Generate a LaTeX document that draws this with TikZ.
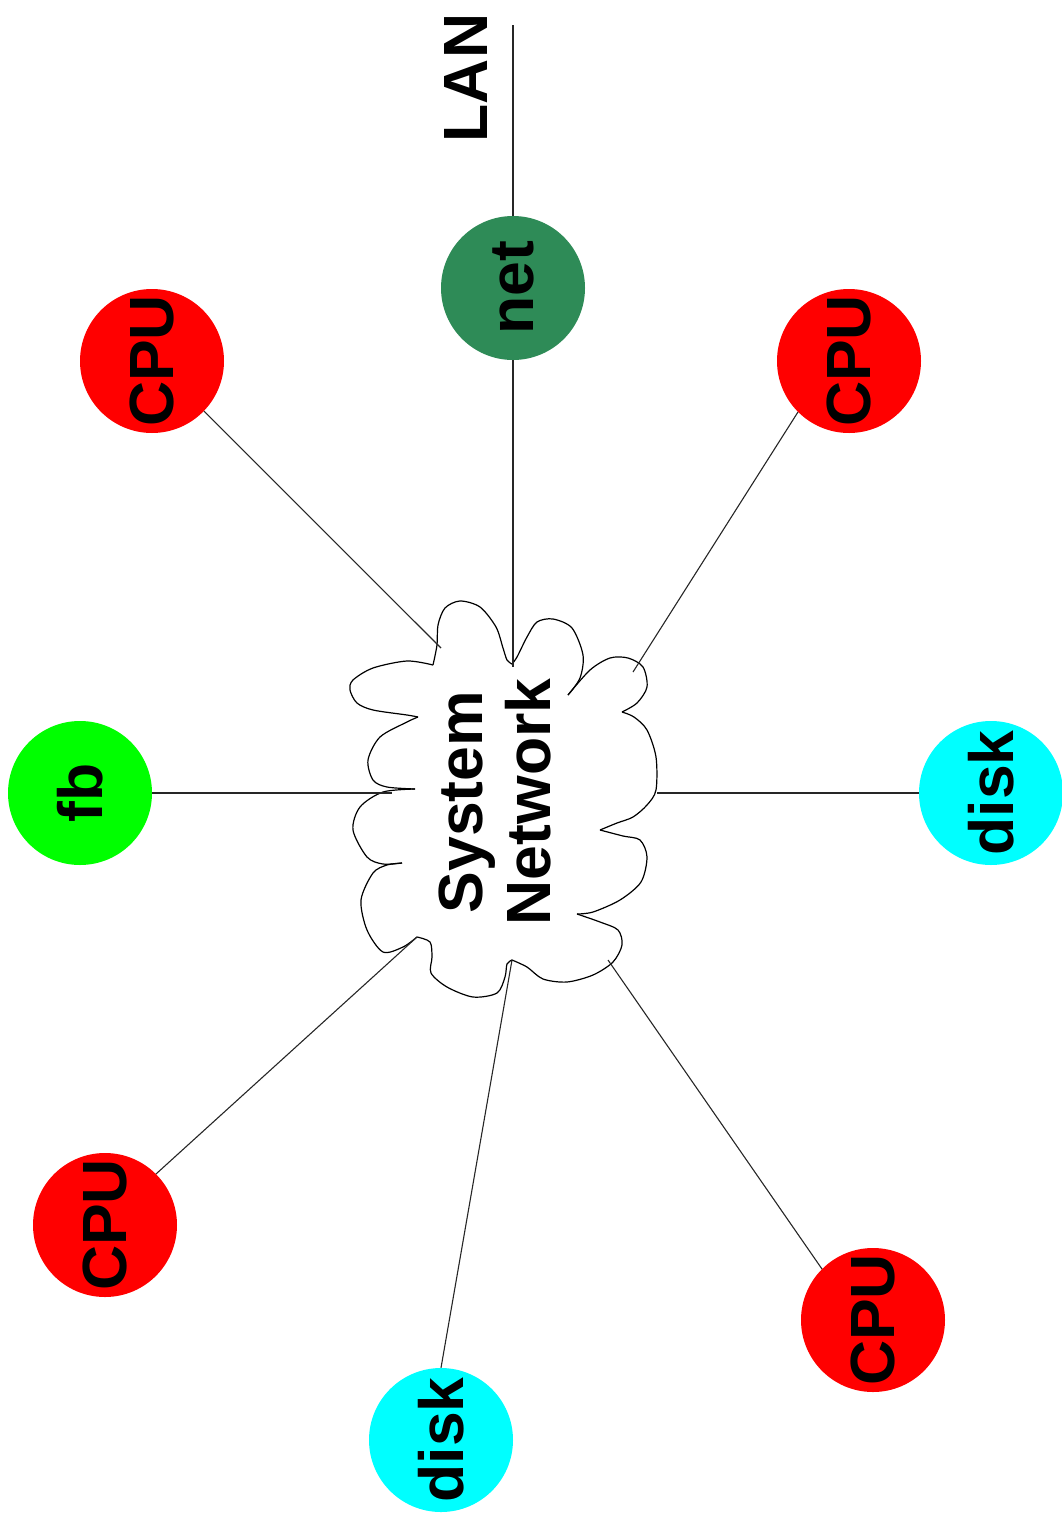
\documentclass[tikz,border=0pt]{standalone}
\usepackage{fontspec}
\usepackage{graphicx}
\setmainfont{Liberation Sans}
\newcommand\diagfont{\fontsize{62.5}{68}\selectfont\bfseries}
\newcommand\rot[1]{\rotatebox{90}{#1}}
\definecolor{cpured}{HTML}{FF0000}
\definecolor{fbgreen}{HTML}{00FF00}
\definecolor{diskcyan}{HTML}{00FFFF}
\definecolor{netgreen}{HTML}{2E8B57}
\begin{document}
\begin{tikzpicture}[x=1pt,y=-1pt,
  unit/.style={circle,minimum size=144pt,inner sep=0pt,font=\diagfont},
  cpu/.style={unit,fill=cpured},
  disk/.style={unit,fill=diskcyan},
  wire/.style={line width=1.1pt,black!85},
  cloudline/.style={line width=1.2pt,black,line join=round}]
\useasboundingbox (0,0) rectangle (1062,1526);

% units around the system network
\node[cpu] (cpuA) at (152,361) {\rot{CPU}};
\node[unit,fill=netgreen] (net) at (513,288) {\rot{net}};
\node[cpu] (cpuB) at (849,361) {\rot{CPU}};
\node[unit,fill=fbgreen] (fb) at (80,793) {\rot{fb}};
\node[disk] (diskR) at (991,793) {\rot{disk}};
\node[cpu] (cpuC) at (105,1225) {\rot{CPU}};
\node[disk] (diskB) at (441,1440) {\rot{disk}};
\node[cpu] (cpuD) at (873,1320) {\rot{CPU}};

% LAN label and its line end
\node[rotate=90,font=\diagfont,inner sep=0pt] (lan) at (466,78) {LAN};
\coordinate (lanend) at (513,25);

% the cloud, lobe by lobe between inward cusps
\begin{scope}[cloudline]
\draw plot[smooth] coordinates {(433,665) (437,645) (438,625) (445,608) (460,601) (480,607) (496,627) (503,648) (507,660) (512,664)};
\draw plot[smooth] coordinates {(512,664) (517,657) (527,637) (537,622) (553,619) (572,628) (583,655) (580,678) (568,695)};
\draw plot[smooth] coordinates {(568,695) (590,670) (610,658) (628,658) (643,667) (647,687) (637,703) (622,712)};
\draw plot[smooth] coordinates {(622,712) (634,717) (647,730) (656,757) (656,790) (647,805) (633,817) (617,823) (600,830)};
\draw plot[smooth] coordinates {(600,830) (623,836) (640,840) (647,857) (641,882) (620,900) (593,912) (577,914)};
\draw plot[smooth] coordinates {(577,914) (600,922) (618,930) (622,945) (613,962) (593,975) (567,982) (543,979) (527,967) (512,960)};
\draw plot[smooth] coordinates {(512,960) (507,964) (505,977) (497,993) (473,997) (447,987) (431,973) (432,957) (430,942) (417,937)};
\draw plot[smooth] coordinates {(417,937) (403,947) (383,952) (367,930) (361,900) (373,873) (387,865) (402,863)};
\draw plot[smooth] coordinates {(402,863) (383,864) (367,857) (353,830) (360,807) (383,792) (415,789)};
\draw plot[smooth] coordinates {(415,789) (387,787) (373,780) (368,760) (380,737) (407,722) (418,717)};
\draw plot[smooth] coordinates {(418,717) (407,715) (373,710) (357,703) (350,690) (353,680) (373,668) (407,661) (433,665)};
\end{scope}

\node[rotate=90,align=center,font=\diagfont,inner sep=0pt] (sysnet) at (495,802) {System\\Network};

% attachment points on the cloud
\coordinate (tA) at (441,648);
\coordinate (tN) at (513,667);
\coordinate (tB) at (633,672);
\coordinate (tF) at (392,793);
\coordinate (tR) at (657,793);
\coordinate (tC) at (417,937);
\coordinate (tD) at (512,960);
\coordinate (tE) at (608,960);

% connectors
\draw[wire] (lanend) -- (net.90);
\draw[wire] (net.270) -- (tN);
\draw[wire] (cpuA.316) -- (tA);
\draw[wire] (cpuB.225) -- (tB);
\draw[wire] (fb.0) -- (tF);
\draw[wire] (diskR.180) -- (tR);
\draw[wire] (cpuC.45) -- (tC);
\draw[wire] (diskB.90) -- (tD);
\draw[wire] (cpuD.135) -- (tE);
\end{tikzpicture}
\end{document}
